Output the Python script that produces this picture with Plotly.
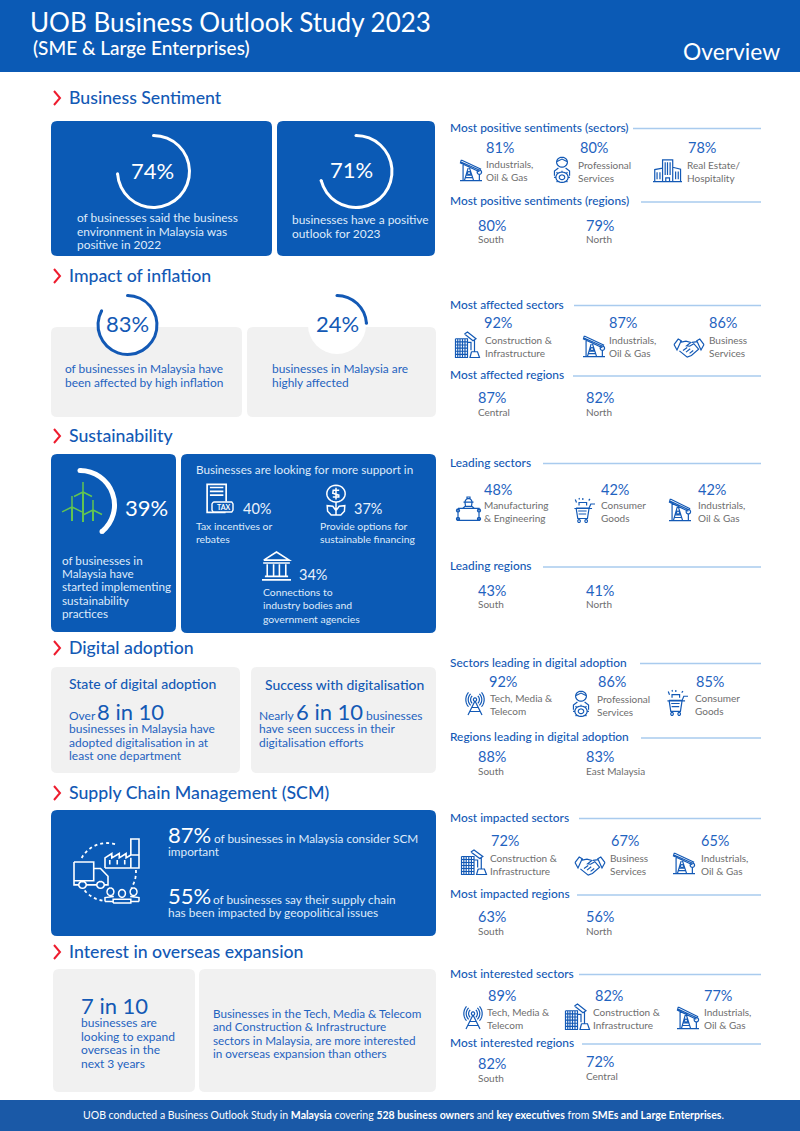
import numpy as np
import plotly.graph_objects as go

# ---------- data ----------
TITLE = "UOB Business Outlook Study 2023"
SUBTITLE = "(SME & Large Enterprises)"
SECTIONS = ["Business Sentiment", "Impact of inflation", "Sustainability", "Digital adoption",
            "Supply Chain Management (SCM)", "Interest in overseas expansion"]
RING_VALUES = [74, 71, 83, 24, 39]

SENT_SECTOR_VALUES = [81, 80, 78]
SENT_SECTOR_NAMES = [["Industrials,", "Oil & Gas"], ["Professional", "Services"], ["Real Estate/", "Hospitality"]]
SENT_REGION_VALUES = [80, 79]
SENT_REGION_NAMES = ["South", "North"]

INFL_SECTOR_VALUES = [92, 87, 86]
INFL_SECTOR_NAMES = [["Construction &", "Infrastructure"], ["Industrials,", "Oil & Gas"], ["Business", "Services"]]
INFL_REGION_VALUES = [87, 82]
INFL_REGION_NAMES = ["Central", "North"]

SUST_SECTOR_VALUES = [48, 42, 42]
SUST_SECTOR_NAMES = [["Manufacturing", "& Engineering"], ["Consumer", "Goods"], ["Industrials,", "Oil & Gas"]]
SUST_REGION_VALUES = [43, 41]
SUST_REGION_NAMES = ["South", "North"]

DIGI_SECTOR_VALUES = [92, 86, 85]
DIGI_SECTOR_NAMES = [["Tech, Media &", "Telecom"], ["Professional", "Services"], ["Consumer", "Goods"]]
DIGI_REGION_VALUES = [88, 83]
DIGI_REGION_NAMES = ["South", "East Malaysia"]

SCM_SECTOR_VALUES = [72, 67, 65]
SCM_SECTOR_NAMES = [["Construction &", "Infrastructure"], ["Business", "Services"], ["Industrials,", "Oil & Gas"]]
SCM_REGION_VALUES = [63, 56]
SCM_REGION_NAMES = ["South", "North"]

OVER_SECTOR_VALUES = [89, 82, 77]
OVER_SECTOR_NAMES = [["Tech, Media &", "Telecom"], ["Construction &", "Infrastructure"], ["Industrials,", "Oil & Gas"]]
OVER_REGION_VALUES = [82, 72]
OVER_REGION_NAMES = ["South", "Central"]

SUPPORT_VALUES = [40, 37, 34]

# ---------- style ----------
BLUE = "#0b5ab5"
TXT = "#1359b5"
VAL = "#1f63c0"
GREY = "#f1f1f1"
LAB = "#6e6e6e"
RED = "#ee1c2e"
WHITE = "#ffffff"
CARDTXT = "#dfeafa"
FONT = "Lato"

W, H = 800, 1131
shapes, ann, traces = [], [], []


def text(x, y, s, size=11, color=TXT, anchor="left", weight=None):
    f = dict(family=FONT, size=size, color=color)
    if weight:
        f["weight"] = weight
    ann.append(dict(x=x-1 if anchor == "left" else x, y=y-0.2, xref="x", yref="y", text=s, showarrow=False, xanchor=anchor,
                    yanchor="middle", align="left", borderpad=0, font=f))


def rrect(x0, y0, x1, y1, color, r=6, layer="below"):
    p = (f"M{x0+r},{y0} L{x1-r},{y0} Q{x1},{y0} {x1},{y0+r} L{x1},{y1-r} Q{x1},{y1} {x1-r},{y1} "
         f"L{x0+r},{y1} Q{x0},{y1} {x0},{y1-r} L{x0},{y0+r} Q{x0},{y0} {x0+r},{y0} Z")
    shapes.append(dict(type="path", path=p, xref="x", yref="y", fillcolor=color, line=dict(width=0), layer=layer))


def dot(x, y, r, color, layer="above"):
    shapes.append(dict(type="circle", x0=x-r, x1=x+r, y0=y-r, y1=y+r, xref="x", yref="y",
                       fillcolor=color, line=dict(width=0), layer=layer))


def hline(x0, x1, y):
    shapes.append(dict(type="line", x0=x0, x1=x1, y0=y, y1=y, xref="x", yref="y",
                       line=dict(color="#a9cbee", width=1.3), layer="below"))


def ring(value, cx, cy, r, t, color, caps=True):
    traces.append(go.Pie(values=[value, 100-value], sort=False, direction="clockwise", rotation=0,
                         hole=(r-t)/r, textinfo="none", hoverinfo="skip", showlegend=False,
                         marker=dict(colors=[color, "rgba(0,0,0,0)"], line=dict(width=0)),
                         domain=dict(x=[(cx-r)/W, (cx+r)/W], y=[1-(cy+r)/H, 1-(cy-r)/H])))
    if caps:
        rm = r - t/2
        for a in (0, value/100*2*np.pi):
            dot(cx+rm*np.sin(a), cy-rm*np.cos(a), t/2, color)


# ---------- icon templates in a 0-100 box ----------
def circ(cx, cy, r, a0=0, a1=360, n=28, rx=None):
    rx = r if rx is None else rx
    aa = np.radians(np.linspace(a0, a1, n))
    return [(cx+rx*np.sin(a), cy-r*np.cos(a)) for a in aa]


OIL = [[(2, 8), (92, 50)], [(6, 0), (2, 14), (88, 56)], [(6, 0), (96, 44)], circ(88, 58, 10),
       [(14, 12), (14, 98)], [(0, 98), (100, 98)], [(40, 28), (20, 98)], [(40, 28), (62, 98)],
       [(88, 68), (88, 98)], [(28, 72), (52, 72)], [(25, 84), (58, 84)], circ(41, 62, 7), [(78, 98), (98, 98)]]
PERSON = [circ(50, 20, 19, rx=30), [(20, 18), (50, 8), (80, 18)], [(8, 72), (8, 54), (30, 42)], [(92, 72), (92, 54), (70, 42)],
          circ(50, 78, 20, rx=34), circ(50, 78, 9, rx=15), [(16, 78), (6, 78)], [(84, 78), (94, 78)], [(50, 58), (50, 53)],
          [(50, 98), (50, 100)], [(26, 64), (20, 58)], [(74, 64), (80, 58)], [(26, 92), (20, 97)], [(74, 92), (80, 97)]]
BUILD = [[(0, 98), (100, 98)], [(33, 98), (33, 4), (68, 4), (68, 98)], [(33, 40), (6, 46), (6, 98)], [(68, 36), (95, 44), (95, 98)],
         [(42, 14), (42, 70)], [(50, 14), (50, 70)], [(59, 14), (59, 70)], [(14, 58), (14, 88)], [(24, 58), (24, 88)],
         [(78, 54), (78, 88)], [(87, 54), (87, 88)], [(44, 98), (44, 82), (57, 82), (57, 98)]]
CONSTR = [[(2, 26), (50, 26), (50, 98), (2, 98), (2, 26)], [(2, 38), (50, 38)], [(2, 50), (50, 50)], [(2, 62), (50, 62)], [(2, 74), (50, 74)], [(2, 86), (50, 86)],
          [(11, 26), (11, 98)], [(20, 26), (20, 98)], [(30, 26), (30, 98)], [(40, 26), (40, 98)],
          [(38, 8), (50, 0), (84, 26), (72, 34), (38, 8)], [(78, 30), (78, 76)], [(66, 76), (90, 76), (98, 98), (60, 98), (66, 76)],
          [(50, 40), (64, 40), (64, 70)]]
SHAKE = [[(0, 36), (14, 10), (24, 18), (10, 62), (0, 36)], [(100, 36), (86, 10), (76, 18), (90, 62), (100, 36)],
         [(20, 26), (40, 20), (56, 26), (42, 42), (52, 44), (66, 32), (82, 58), (58, 88), (44, 96), (18, 66)],
         [(60, 26), (78, 22)], [(64, 64), (52, 78)], [(54, 56), (40, 72)], [(44, 50), (30, 64)]]
CART = [[(10, 40), (72, 40), (64, 82), (18, 82), (10, 40)], [(2, 42), (86, 42)], [(72, 40), (80, 24), (100, 24)],
        [(20, 52), (60, 52)], [(22, 64), (58, 64)], [(24, 30), (24, 18), (60, 18), (60, 30)], circ(24, 92, 6), circ(58, 92, 6),
        [(12, 18), (6, 6)], [(42, 8), (42, 0)], [(70, 10), (76, 4)], [(26, 6), (24, 0)]]
ANT = [[(50, 36), (15, 100)], [(50, 36), (85, 100)], circ(50, 30, 8), [(34, 66), (66, 66)], [(25, 84), (75, 84)],
       circ(50, 30, 22, 40, 140, 8), circ(50, 30, 22, 220, 320, 8), circ(50, 30, 34, 40, 140, 8), circ(50, 30, 34, 220, 320, 8),
       circ(50, 30, 46, 45, 135, 8), circ(50, 30, 46, 225, 315, 8)]
WORKER = [circ(50, 20, 14, -90, 90, 10), [(30, 20), (70, 20)], [(36, 20), (38, 36), (62, 36), (64, 20)], [(44, 6), (44, 0), (56, 0), (56, 6)],
          [(8, 44), (92, 44), (92, 90), (8, 90), (8, 44)], circ(8, 52, 6), circ(92, 52, 6), circ(8, 84, 6), circ(92, 84, 6),
          [(26, 44), (36, 36)], [(74, 44), (64, 36)]]
TAX = [[(72, 58), (72, 4), (4, 4), (4, 92), (70, 92)], [(14, 14), (62, 14)], [(14, 26), (62, 26)], [(14, 38), (62, 38)]]
TAXPILL = [[(6, 0), (94, 0), (100, 20), (100, 80), (94, 100), (6, 100), (0, 80), (0, 20), (6, 0)]]
MONEY = [circ(50, 31, 27, rx=46), [(50, 58), (50, 100)], [(50, 86), (34, 72), (6, 70), (8, 88), (26, 100), (50, 100)],
         [(50, 86), (66, 72), (94, 70), (92, 88), (74, 100), (50, 100)], [(66, 20), (36, 20), (34, 30), (64, 36), (64, 42), (34, 42)],
         [(50, 12), (50, 50)]]
BANK = [[(6, 28), (50, 0), (94, 28), (6, 28)], [(4, 38), (96, 38)], [(0, 96), (100, 96)], [(10, 84), (90, 84)],
        [(18, 42), (18, 82)], [(40, 42), (40, 82)], [(60, 42), (60, 82)], [(82, 42), (82, 82)]]
FACTORY = [[(0, 100), (0, 65), (20, 50), (20, 65), (42, 50), (42, 65), (62, 50), (62, 65), (76, 55), (76, 0), (100, 0), (100, 100), (0, 100)],
           [(76, 55), (100, 55)], [(14, 72), (14, 88)], [(36, 72), (36, 88)], [(58, 72), (58, 88)], [(76, 65), (76, 100)]]
TRUCK = [[(0, 0), (58, 0), (58, 72), (0, 72), (0, 0)], [(58, 25), (78, 25), (100, 55), (100, 88), (90, 88)], [(38, 88), (66, 88)],
         [(0, 72), (0, 88), (12, 88)], circ(25, 88, 13, rx=11), circ(78, 88, 13, rx=11)]
PEOPLE = [circ(16, 30, 24, rx=10), circ(50, 40, 24, rx=10), circ(84, 30, 24, rx=10),
          [(0, 90), (0, 66), (26, 60)], [(100, 90), (100, 66), (74, 60)], [(24, 100), (24, 76), (76, 76), (76, 100), (24, 100)], [(0, 90), (24, 90)], [(76, 90), (100, 90)]]
DOTS = [circ(50, 50, 50, -61, 22, 16), circ(50, 50, 50, 86, 123, 8), circ(50, 50, 50, 189, 234, 8)]


def icon(tmpl, x0, y0, x1, y1, color=TXT, w=1.3, fill=None, dash=None):
    d = []
    for pl in tmpl:
        pts = [(x0+(x1-x0)*a/100, y0+(y1-y0)*b/100) for a, b in pl]
        d.append("M" + " L".join(f"{a:.2f},{b:.2f}" for a, b in pts))
    ln = dict(color=color, width=w)
    if dash:
        ln["dash"] = dash
    s = dict(type="path", path=" ".join(d), xref="x", yref="y", line=ln, layer="above")
    if fill:
        s["fillcolor"] = fill
    shapes.append(s)


# ---------- header / footer ----------
shapes.append(dict(type="rect", x0=0, x1=W, y0=0, y1=72, xref="x", yref="y", fillcolor=BLUE, line=dict(width=0), layer="below"))
shapes.append(dict(type="rect", x0=0, x1=W, y0=1100, y1=H, xref="x", yref="y", fillcolor="#1a59a7", line=dict(width=0), layer="below"))
text(30, 22, TITLE, 26, WHITE)
text(33, 48, SUBTITLE, 19, WHITE, weight=500)
text(683, 51, "Overview", 22.8, WHITE)
text(403, 1115, "UOB conducted a Business Outlook Study in <b>Malaysia</b> covering <b>528 business owners</b> and "
     "<b>key executives</b> from <b>SMEs and Large Enterprises</b>.", 10.5, WHITE, anchor="center")

# ---------- section heads ----------
SECTION_Y = [98, 276, 436, 648, 793, 952]
for s, y in zip(SECTIONS, SECTION_Y):
    shapes.append(dict(type="path", path=f"M54,{y-7} L60,{y} L54,{y+7}", xref="x", yref="y",
                       line=dict(color=RED, width=2)))
    text(69, y, s, 17.7, TXT, weight=500)

# ---------- cards ----------
for c in [(51, 121, 272, 256), (277, 121, 435, 256), (51, 454, 176, 632), (181, 454, 436, 633), (51, 810, 436, 936)]:
    rrect(*c, BLUE)
for c in [(51, 327, 242, 417), (247, 327, 436, 417), (51, 667, 240, 773), (251, 667, 436, 773), (53, 969, 195, 1092), (199, 969, 436, 1092)]:
    rrect(*c, GREY)
dot(127, 325, 29, WHITE, "below")
dot(337, 325, 29, WHITE, "below")

# rings
ring(RING_VALUES[0], 153.5, 171.5, 37.5, 3, WHITE)
ring(RING_VALUES[1], 356, 171.5, 37.5, 3, WHITE)
ring(RING_VALUES[2], 127.5, 325, 31, 3, TXT)
ring(RING_VALUES[3], 337, 325, 31, 3, TXT)
ring(RING_VALUES[4], 80, 505, 37, 5, WHITE)

BIG = 22
text(152, 171, f"{RING_VALUES[0]}%", BIG, WHITE, "center")
text(351, 170, f"{RING_VALUES[1]}%", BIG, WHITE, "center")
text(127, 324, f"{RING_VALUES[2]}%", BIG, TXT, "center")
text(337, 324, f"{RING_VALUES[3]}%", BIG, TXT, "center")
text(125, 508, f"{RING_VALUES[4]}%", BIG, WHITE)

for i, l in enumerate(["of businesses said the business", "environment in Malaysia was", "positive in 2022"]):
    text(77, 218+13.5*i, l, 11.9, CARDTXT)
for i, l in enumerate(["businesses have a positive", "outlook for 2023"]):
    text(292, 220+13.5*i, l, 11.9, CARDTXT)
for i, l in enumerate(["of businesses in Malaysia have", "been affected by high inflation"]):
    text(64.5, 369+14*i, l, 11.9, VAL)
for i, l in enumerate(["businesses in Malaysia are", "highly affected"]):
    text(272, 369+14*i, l, 11.9, VAL)

# sustainability
for i, l in enumerate(["of businesses in", "Malaysia have", "started implementing", "sustainability", "practices"]):
    text(62, 560+13.3*i, l, 11.7, CARDTXT)
text(196, 469, "Businesses are looking for more support in", 11.7, CARDTXT)
G = "#62c451"
for (hx, hy, blade, base) in [(83, 492, 10, 522), (72, 507, 11, 521), (93, 510, 10, 521)]:
    blades = [[(hx, hy), (hx, hy-blade)], [(hx, hy), (hx-blade*0.9, hy+blade*0.45)], [(hx, hy), (hx+blade*0.9, hy+blade*0.45)]]
    shapes.append(dict(type="path", path=" ".join("M" + " L".join(f"{a},{b}" for a, b in b_) for b_ in blades),
                       xref="x", yref="y", line=dict(color=G, width=1.5), layer="above"))
    shapes.append(dict(type="line", x0=hx, x1=hx, y0=hy, y1=base, xref="x", yref="y", line=dict(color=G, width=2)))
icon(TAX, 206, 483, 234, 515, WHITE, 1.7)
icon(TAXPILL, 212, 502, 233, 512, WHITE, 1.4, fill=BLUE)
text(223.5, 507, "TAX", 7, WHITE, "center", weight=700)
icon(MONEY, 326, 484, 346, 515, WHITE, 1.5)
icon(BANK, 262, 552, 291, 581, WHITE, 1.6)
text(243, 509, f"{SUPPORT_VALUES[0]}%", 14.5, "#eaf1fb")
text(354, 509, f"{SUPPORT_VALUES[1]}%", 14.5, "#eaf1fb")
text(299, 575, f"{SUPPORT_VALUES[2]}%", 14.5, "#eaf1fb")
for i, l in enumerate(["Tax incentives or", "rebates"]):
    text(196, 526+13.5*i, l, 10.4, CARDTXT)
for i, l in enumerate(["Provide options for", "sustainable financing"]):
    text(320, 526+13.5*i, l, 10.4, CARDTXT)
for i, l in enumerate(["Connections to", "industry bodies and", "government agencies"]):
    text(263, 592+13.5*i, l, 10.4, CARDTXT)

# digital
text(69, 684, "State of digital adoption", 14, TXT, weight=500)
text(265, 685, "Success with digitalisation", 13.9, TXT, weight=500)
text(69, 716, "Over", 12, VAL)
text(97, 712, "8 in 10", BIG, TXT)
for i, l in enumerate(["businesses in Malaysia have", "adopted digitalisation in at", "least one department"]):
    text(69, 729+13.5*i, l, 12, VAL)
text(259, 716, "Nearly", 12, VAL)
text(296, 712, "6 in 10", BIG, TXT)
text(366, 716, "businesses", 12, VAL)
for i, l in enumerate(["have seen success in their", "digitalisation efforts"]):
    text(259, 729+13.5*i, l, 12, VAL)

# SCM
text(168, 835, "87%", BIG, WHITE)
text(214, 839, "of businesses in Malaysia consider SCM", 11.8, CARDTXT)
text(168, 852, "important", 11.8, CARDTXT)
text(168, 896, "55%", BIG, WHITE)
text(213, 900, "of businesses say their supply chain", 11.8, CARDTXT)
text(168, 913, "has been impacted by geopolitical issues", 11.9, CARDTXT)
icon(DOTS, 78, 843, 136, 901, WHITE, 1.8, dash="dot")
icon(FACTORY, 105, 839, 139, 868, WHITE, 1.6)
icon(TRUCK, 74, 862, 108, 888, WHITE, 1.6)
icon(PEOPLE, 105, 887, 139, 903, WHITE, 1.5)

# overseas
text(81, 1006, "7 in 10", BIG, TXT)
for i, l in enumerate(["businesses are", "looking to expand", "overseas in the", "next 3 years"]):
    text(81, 1023+13.5*i, l, 12, VAL)
for i, l in enumerate(["Businesses in the Tech, Media & Telecom", "and Construction & Infrastructure",
                       "sectors in Malaysia, are more interested", "in overseas expansion than others"]):
    text(213, 1013+13.4*i, l, 11.7, VAL)


# ---------- right-hand panels ----------
HEAD = 11.9


def panel(head, head_y, line_x, vals, names, val_xy, lab_xy, icons):
    text(450, head_y, head, HEAD, TXT, weight=500)
    hline(line_x, 761, head_y+0.5)
    for v, n, (vx, vy), (lx, ly), (tm, box) in zip(vals, names, val_xy, lab_xy, icons):
        text(vx, vy, f"{v}%", 14.5, VAL)
        for i, l in enumerate(n):
            text(lx, ly+13*i, l, 10, LAB)
        icon(tm, *box, TXT, 1.2)


def regions(head, head_y, line_x, vals, names, vys=(None, None), lys=(None, None)):
    text(450, head_y, head, HEAD, TXT, weight=500)
    hline(line_x, 761, head_y+1)
    for v, n, x, vy, ly in zip(vals, names, (478, 586), vys, lys):
        text(x, vy, f"{v}%", 14.5, VAL)
        text(x, ly, n, 10, LAB)


panel("Most positive sentiments (sectors)", 128, 633, SENT_SECTOR_VALUES, SENT_SECTOR_NAMES,
      [(486, 148), (580, 148), (688, 148)], [(486, 164), (578, 165), (687, 165)],
      [(OIL, (460, 160, 482, 181)), (PERSON, (553, 157, 571, 183)), (BUILD, (653, 159, 682, 182))])
regions("Most positive sentiments (regions)", 201, 641, SENT_REGION_VALUES, SENT_REGION_NAMES, (226, 226), (239, 239))

panel("Most affected sectors", 305, 574, INFL_SECTOR_VALUES, INFL_SECTOR_NAMES,
      [(484, 323), (609, 323), (709, 323)], [(485, 340), (609, 340), (709, 340)],
      [(CONSTR, (455, 332, 480, 358)), (OIL, (583, 336, 605, 357)), (SHAKE, (674, 337, 704, 358))])
regions("Most affected regions", 375, 573, INFL_REGION_VALUES, INFL_REGION_NAMES, (398, 398), (412, 412))

panel("Leading sectors", 463, 543, SUST_SECTOR_VALUES, SUST_SECTOR_NAMES,
      [(484, 490), (601, 490), (698, 490)], [(484, 505), (601, 505), (698, 505)],
      [(WORKER, (456, 497, 481, 523)), (CART, (574, 498, 595, 523)), (OIL, (669, 499, 691, 521))])
regions("Leading regions", 566, 543, SUST_REGION_VALUES, SUST_REGION_NAMES, (591, 591), (604, 604))

panel("Sectors leading in digital adoption", 663, 640, DIGI_SECTOR_VALUES, DIGI_SECTOR_NAMES,
      [(489, 682), (598, 682), (696, 682)], [(490, 698), (597, 699), (695, 698)],
      [(ANT, (465, 693, 485, 715)), (PERSON, (572, 691, 590, 717)), (CART, (667, 690, 688, 716))])
regions("Regions leading in digital adoption", 737, 641, DIGI_REGION_VALUES, DIGI_REGION_NAMES, (757, 757), (771, 771))

panel("Most impacted sectors", 818, 579, SCM_SECTOR_VALUES, SCM_SECTOR_NAMES,
      [(491, 841), (611, 841), (701, 841)], [(490, 858), (610, 858), (701, 858)],
      [(CONSTR, (461, 850, 487, 875)), (SHAKE, (575, 855, 605, 876)), (OIL, (673, 853, 695, 874))])
regions("Most impacted regions", 894, 577, SCM_REGION_VALUES, SCM_REGION_NAMES, (917, 917), (931, 931))

panel("Most interested sectors", 974, 579, OVER_SECTOR_VALUES, OVER_SECTOR_NAMES,
      [(488, 996), (595, 996), (704, 996)], [(487, 1012), (593, 1012), (704, 1012)],
      [(ANT, (463, 1007, 483, 1029)), (CONSTR, (565, 1004, 590, 1030)), (OIL, (677, 1007, 699, 1029))])
regions("Most interested regions", 1043, 582, OVER_REGION_VALUES, OVER_REGION_NAMES, (1064, 1062), (1078, 1076))

# ---------- figure ----------
fig = go.Figure(traces)
fig.add_trace(go.Scatter(x=[], y=[], hoverinfo="skip", showlegend=False))
fig.update_layout(width=W, height=H, margin=dict(l=0, r=0, t=0, b=0, pad=0), paper_bgcolor="white", plot_bgcolor="rgba(0,0,0,0)",
                  showlegend=False, shapes=shapes, annotations=ann, hovermode=False,
                  xaxis=dict(range=[0, W], visible=False, fixedrange=True, domain=[0, 1]),
                  yaxis=dict(range=[H, 0], visible=False, fixedrange=True, domain=[0, 1]))
fig.write_html("out.html", config=dict(displayModeBar=False, responsive=False),
               post_script="document.body.style.margin='0';document.body.style.overflow='hidden';")
